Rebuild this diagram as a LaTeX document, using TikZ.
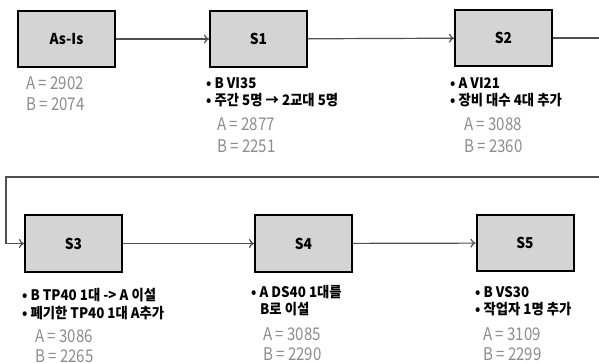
\documentclass[tikz,border=0pt]{standalone}
\usepackage{fontspec}
\setmainfont{Noto Sans CJK KR}
\newfontfamily\valfont{Noto Sans CJK KR}[FakeStretch=0.86]
\newfontfamily\notefont{Noto Sans CJK KR}[FakeStretch=0.92]
\usetikzlibrary{arrows.meta}
\definecolor{boxgray}{HTML}{D4D4D4}
\definecolor{valgray}{HTML}{8C8C8C}
\definecolor{linegray}{HTML}{505050}
\begin{document}
\begin{tikzpicture}[x=1pt,y=-1pt,
    stage/.style={draw=black, line width=2pt, fill=boxgray, minimum width=97pt,
        minimum height=56pt, inner sep=0pt, font=\notefont\fontsize{15}{15}\selectfont\bfseries},
    flow/.style={draw=linegray, line width=1.2pt, -{To[length=5pt,width=9pt]}},
    note/.style={anchor=base west, inner sep=0pt, font=\notefont\fontsize{14.5}{15}\selectfont\bfseries},
    val/.style={anchor=base west, inner sep=0pt, text=valgray, font=\valfont\fontsize{17.5}{18}\selectfont}]
    \useasboundingbox (0,0) rectangle (599,363);

    % first row
    \node[stage] (asis) at (66.5,39) {As-Is};
    \node[stage] (s1) at (258.5,39) {S1};
    \node[stage] (s2) at (503.5,38) {S2};
    % second row
    \node[stage] (s3) at (73.5,243.5) {S3};
    \node[stage] (s4) at (303.5,243.5) {S4};
    \node[stage] (s5) at (525,243) {S5};

    % turn points of the wrap line
    \coordinate (turnR) at (604,38);
    \coordinate (turnL) at (6,177);

    \draw[flow] (asis) -- (s1);
    \draw[flow] (s1) -- (s2);
    \draw[flow] (s2.east) -- (turnR) |- (turnL) |- (s3.west);
    \draw[flow] (s3) -- (s4);
    \draw[flow] (s4) -- (s5);

    % As-Is values
    \node[val] (asisA) at (26,90) {A = 2902};
    \node[val] (asisB) at (26,111) {B = 2074};

    % S1
    \node[note] (s1n1) at (206,89) {• B VI35};
    \node[note] (s1n2) at (206,106) {• 주간 5명 → 2교대 5명};
    \node[val] (s1A) at (217,131) {A = 2877};
    \node[val] (s1B) at (217,153) {B = 2251};

    % S2
    \node[note] (s2n1) at (450,89) {• A VI21};
    \node[note] (s2n2) at (450,106) {• 장비 대수 4대 추가};
    \node[val] (s2A) at (464,131) {A = 3088};
    \node[val] (s2B) at (464,153) {B = 2360};

    % S3
    \node[note] (s3n1) at (22,300) {• B TP40 1대 -> A 이설};
    \node[note] (s3n2) at (22,318) {• 폐기한 TP40 1대 A추가};
    \node[val] (s3A) at (35,342) {A = 3086};
    \node[val] (s3B) at (35,362) {B = 2265};

    % S4
    \node[note] (s4n1) at (251,297) {• A DS40 1대를};
    \node[note] (s4n2) at (260,314) {B로 이설};
    \node[val] (s4A) at (263,340) {A = 3085};
    \node[val] (s4B) at (263,360) {B = 2290};

    % S5
    \node[note] (s5n1) at (475,297) {• B VS30};
    \node[note] (s5n2) at (475,314) {• 작업자 1명 추가};
    \node[val] (s5A) at (483,340) {A = 3109};
    \node[val] (s5B) at (483,360) {B = 2299};
\end{tikzpicture}
\end{document}
